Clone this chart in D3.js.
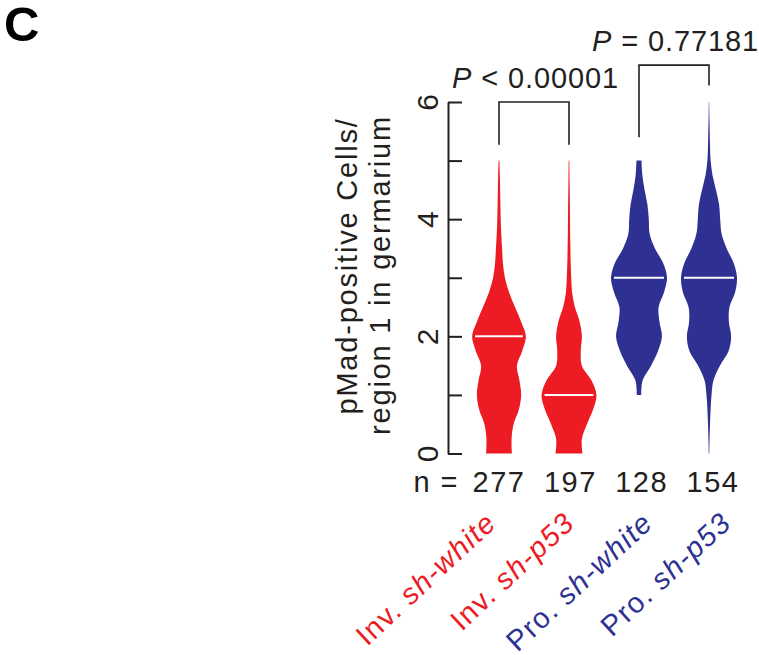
<!DOCTYPE html>
<html>
<head>
<meta charset="utf-8">
<script src="https://cdn.jsdelivr.net/npm/d3@7"></script>
<style>
  body { margin: 0; background: #fff; }
  text { font-family: "Liberation Sans", Arial, Helvetica, sans-serif; fill: #231f20; }
</style>
</head>
<body>
<div id="chart"></div>
<script>
// groups
var groups = ["Inv. sh-white", "Inv. sh-p53", "Pro. sh-white", "Pro. sh-p53"]
var prefixes = ["Inv.", "Inv.", "Pro.", "Pro."]
var constructs = ["sh-white", "sh-p53", "sh-white", "sh-p53"]
var counts = [277, 197, 128, 154]
var medians = [2, 1, 3, 3]
var colors = ["#ed1c24", "#ed1c24", "#2e3192", "#2e3192"]

// relative kernel density at each level (null = outside the violin)
var levels = [0, 0.25, 0.5, 0.75, 1, 1.25, 1.5, 1.75, 2, 2.25, 2.5, 2.75, 3,
              3.25, 3.5, 3.75, 4, 4.25, 4.5, 4.75, 5, 5.25, 5.5, 5.75, 6]
var densInvWhite = [0.46, 0.45, 0.52, 0.71, 0.79, 0.73, 0.64, 0.83, 0.96, 0.79, 0.57, 0.36, 0.21,
                    0.14, 0.11, 0.08, 0.06, 0.05, 0.04, 0.03, 0.015, null, null, null, null]
var densInvP53 = [0.48, 0.46, 0.64, 0.86, 0.98, 0.80, 0.46, 0.42, 0.46, 0.38, 0.21, 0.11, 0.08,
                  0.06, 0.05, 0.04, 0.036, 0.032, 0.025, 0.018, 0.011, null, null, null, null]
var densProWhite = [null, null, null, null, 0.08, 0.13, 0.43, 0.68, 0.82, 0.73, 0.70, 0.89, 1.0,
                    0.86, 0.57, 0.38, 0.35, 0.30, 0.20, 0.12, 0.09, null, null, null, null]
var densProP53 = [0.01, 0.02, 0.036, 0.057, 0.09, 0.16, 0.39, 0.70, 0.79, 0.71, 0.73, 0.93, 1.0,
                  0.88, 0.63, 0.45, 0.40, 0.36, 0.25, 0.125, 0.057, 0.036, 0.025, 0.014, 0.007]
var densities = [densInvWhite, densInvP53, densProWhite, densProP53]

// comparisons
var pairs = [[0, 1], [2, 3]]
var pTexts = ["< 0.00001", "= 0.77181"]
var bracketTops = [6, 6.63]
var bracketLegs = [[5.27, 5.27], [5.4, 6.28]]

var width = 759, height = 655

var svg = d3.select("#chart").append("svg")
  .attr("width", width)
  .attr("height", height)

var y = d3.scaleLinear().domain([0, 6]).range([453.5, 102])
var x = d3.scalePoint().domain(groups).range([499, 709])
var w = d3.scaleLinear().domain([0, 1]).range([0, 28])
var countX = d3.scalePoint().domain(groups).range([499, 713])
var labelX = d3.scalePoint().domain(groups).range([498, 733])

// panel letter
svg.append("text")
  .attr("x", 4).attr("y", 41)
  .attr("font-size", 49).attr("font-weight", "bold")
  .style("fill", "#000")
  .text("C")

// violins
var area = d3.area()
  .y(function(d) { return y(d.v) })
  .x0(function(d) { return -w(d.d) })
  .x1(function(d) { return w(d.d) })
  .curve(d3.curveCatmullRom)

groups.forEach(function(g, i) {
  var pts = levels.map(function(v, j) { return {v: v, d: densities[i][j]} })
    .filter(function(d) { return d.d != null })
  var vg = svg.append("g").attr("transform", "translate(" + x(g) + ",0)")
  vg.append("path")
    .datum(pts)
    .attr("d", area)
    .attr("fill", colors[i])
  var half = w(densities[i][levels.indexOf(medians[i])]) - 3
  vg.append("line")
    .attr("x1", -half).attr("x2", half)
    .attr("y1", y(medians[i])).attr("y2", y(medians[i]))
    .attr("stroke", "#fff").attr("stroke-width", 2)
})

// y axis: ticks pointing inward, labels rotated
var yAxis = d3.axisLeft(y)
  .tickValues(d3.range(0, 7))
  .tickSizeInner(-14)
  .tickSizeOuter(0)
  .tickFormat(function(d) { return d % 2 === 0 ? d : "" })

var gy = svg.append("g")
  .attr("transform", "translate(448,0)")
  .call(yAxis)
gy.attr("font-family", null).attr("font-size", null)
gy.selectAll("line, path").attr("stroke", "#231f20").attr("stroke-width", 2)
gy.selectAll("text")
  .attr("x", null).attr("dy", null)
  .attr("text-anchor", "middle")
  .attr("transform", "translate(-10,0) rotate(-90)")
  .attr("font-size", 30)
  .style("fill", "#231f20")

// y label
var yLabel = ["pMad-positive Cells/", "region 1 in germarium"]
svg.selectAll(".ylab")
  .data(yLabel)
  .enter().append("text")
  .attr("class", "ylab")
  .attr("transform", function(d, i) { return "translate(" + (357 + i * 33) + "," + (266 + i * 9) + ") rotate(-90)" })
  .attr("text-anchor", "middle")
  .attr("font-size", 29)
  .attr("letter-spacing", 1.8)
  .text(function(d) { return d })

// sample sizes
svg.append("text")
  .attr("x", 459).attr("y", 492)
  .attr("text-anchor", "end")
  .attr("font-size", 29)
  .attr("letter-spacing", 1.5)
  .text("n =")
svg.selectAll(".count")
  .data(counts)
  .enter().append("text")
  .attr("class", "count")
  .attr("x", function(d, i) { return countX(groups[i]) })
  .attr("y", 492)
  .attr("text-anchor", "middle")
  .attr("font-size", 29)
  .attr("letter-spacing", 1.5)
  .text(function(d) { return d })

// group labels
var lab = svg.selectAll(".glab")
  .data(groups)
  .enter().append("text")
  .attr("class", "glab")
  .attr("transform", function(d) { return "translate(" + labelX(d) + ",525) rotate(-43)" })
  .attr("text-anchor", "end")
  .attr("font-size", 29)
  .attr("letter-spacing", 1.4)
lab.append("tspan")
  .style("fill", function(d, i) { return colors[i] })
  .text(function(d, i) { return prefixes[i] + " " })
lab.append("tspan")
  .style("fill", function(d, i) { return colors[i] })
  .attr("font-style", "italic")
  .text(function(d, i) { return constructs[i] })

// significance brackets
pairs.forEach(function(p, i) {
  var xa = x(groups[p[0]]), xb = x(groups[p[1]])
  var top = y(bracketTops[i])
  svg.append("path")
    .attr("d", "M" + xa + "," + y(bracketLegs[i][0]) + "V" + top + "H" + xb + "V" + y(bracketLegs[i][1]))
    .attr("fill", "none")
    .attr("stroke", "#231f20")
    .attr("stroke-width", 1.6)
  var t = svg.append("text")
    .attr("x", xa - 47).attr("y", top - 14)
    .attr("font-size", 29)
    .attr("letter-spacing", 0.9)
  t.append("tspan").attr("font-style", "italic").text("P")
  t.append("tspan").text(" " + pTexts[i])
})
</script>
</body>
</html>
